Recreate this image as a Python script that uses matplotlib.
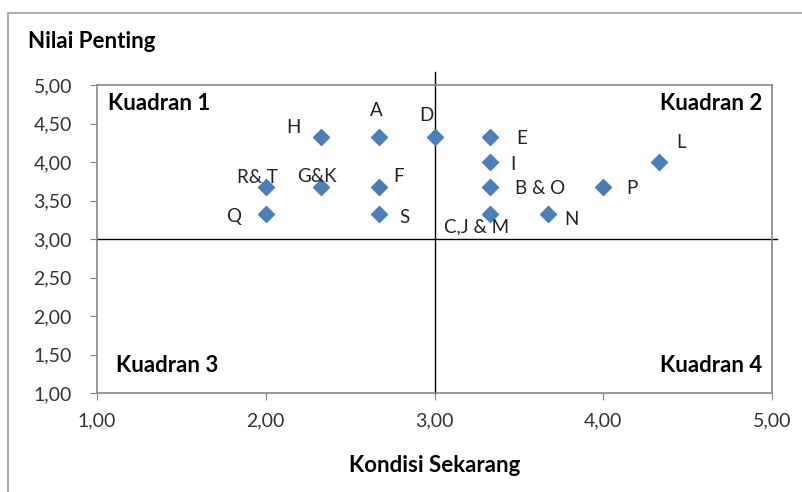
import matplotlib
matplotlib.use("Agg")
import matplotlib.pyplot as plt
from matplotlib.ticker import FuncFormatter, MultipleLocator
from matplotlib.patches import Rectangle

plt.rcParams['font.family'] = ['Lato', 'DejaVu Sans']

# atribut: kondisi sekarang (x) vs nilai penting (y)
labels = ['H', 'A', 'D', 'E', 'I', 'B & O', 'C,J & M', 'N', 'P', 'L',
          'R& T', 'G&K', 'F', 'Q', 'S']
kondisi = [2.33, 2.67, 3.00, 3.33, 3.33, 3.33, 3.33, 3.67, 4.00, 4.33,
           2.00, 2.33, 2.67, 2.00, 2.67]
penting = [4.33, 4.33, 4.33, 4.33, 4.00, 3.67, 3.33, 3.33, 3.67, 4.00,
           3.67, 3.67, 3.67, 3.33, 3.33]

# label offsets in pixels from each point
offsets = {'H': (-28, 9), 'A': (-3, 26), 'D': (-8, 21), 'E': (31, -2),
           'I': (23, -2), 'B & O': (50, -1), 'C,J & M': (-14, -13),
           'N': (24, -6), 'P': (29, -1), 'L': (22, 20), 'R& T': (-8, 10),
           'G&K': (-5, 11), 'F': (20, 11), 'Q': (-32, -3), 'S': (26, -4)}

fig = plt.figure(figsize=(8.02, 4.92), dpi=100)
ax = fig.add_axes([97 / 802, 1 - 393 / 492, 675 / 802, 308 / 492])

# outer chart frame (cut by the image edge)
fig.add_artist(Rectangle((8 / 802, -0.1), 1.2, 0.1 + 1 - 13 / 492,
                         transform=fig.transFigure, fill=False,
                         edgecolor='#a0a0a0', linewidth=1.2))

ax.scatter(kondisi, penting, marker='D', s=66, color='#4a7ebb', zorder=3)

for lab, x, y in zip(labels, kondisi, penting):
    dx, dy = offsets[lab]
    ax.annotate(lab, (x, y), xytext=(dx, dy), textcoords='offset pixels',
                ha='center', va='center', fontsize=13.5, color='#222222')

# quadrant lines
ax.plot([3, 3], [1, 5.17], color='black', linewidth=1, clip_on=False, zorder=2)
ax.plot([1, 5.03], [3, 3], color='black', linewidth=1, clip_on=False, zorder=2)

ax.set_xlim(1, 5)
ax.set_ylim(1, 5)
ax.xaxis.set_major_locator(MultipleLocator(1))
ax.yaxis.set_major_locator(MultipleLocator(0.5))
fmt = FuncFormatter(lambda v, p: f"{v:.2f}".replace('.', ','))
ax.xaxis.set_major_formatter(fmt)
ax.yaxis.set_major_formatter(fmt)
ax.tick_params(axis='both', direction='out', length=5, color='#868686',
               labelsize=14, labelcolor='#333333')
ax.tick_params(axis='y', pad=13)
ax.tick_params(axis='x', pad=9)
for sp in ax.spines.values():
    sp.set_color('#868686')
    sp.set_linewidth(1.2)

ax.text(0.016, 0.94, 'Kuadran 1', transform=ax.transAxes, fontsize=16,
        fontweight='bold', ha='left', va='center')
ax.text(0.985, 0.94, 'Kuadran 2', transform=ax.transAxes, fontsize=16,
        fontweight='bold', ha='right', va='center')
ax.text(0.028, 0.09, 'Kuadran 3', transform=ax.transAxes, fontsize=16,
        fontweight='bold', ha='left', va='center')
ax.text(0.985, 0.09, 'Kuadran 4', transform=ax.transAxes, fontsize=16,
        fontweight='bold', ha='right', va='center')

fig.text(28 / 802, 1 - 42 / 492, 'Nilai Penting', fontsize=16,
         fontweight='bold', ha='left', va='center')
fig.text(435 / 802, 1 - 466 / 492, 'Kondisi Sekarang', fontsize=16,
         fontweight='bold', ha='center', va='center')

fig.savefig('out.png', dpi=100)
